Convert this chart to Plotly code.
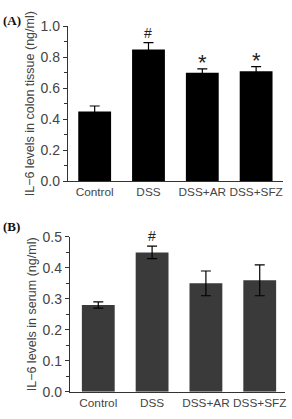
import plotly.graph_objects as go

categories = ["Control", "DSS", "DSS+AR", "DSS+SFZ"]
colon_values = [0.45, 0.85, 0.70, 0.71]
colon_errors = [0.035, 0.045, 0.025, 0.03]
colon_marks = ["", "#", "*", "*"]
serum_values = [0.28, 0.45, 0.35, 0.36]
serum_errors = [0.01, 0.02, 0.04, 0.05]
serum_marks = ["", "#", "", ""]

W, H = 292, 419
FONT = "Liberation Sans, Arial, sans-serif"
AX = "#333333"

fig = go.Figure()
fig.add_trace(go.Bar(x=categories, y=colon_values, width=0.61,
                     marker=dict(color="#000000", line=dict(width=0)),
                     error_y=dict(type="data", array=colon_errors, visible=True,
                                  color="#000000", thickness=1.2, width=5),
                     xaxis="x", yaxis="y", showlegend=False))
fig.add_trace(go.Bar(x=categories, y=serum_values, width=0.61,
                     marker=dict(color="#3a3a3a", line=dict(width=0)),
                     error_y=dict(type="data", array=serum_errors, visible=True,
                                  color="#000000", thickness=1.2, width=5),
                     xaxis="x2", yaxis="y2", showlegend=False))

def px_x(p):
    return p / W

def px_y(p):
    return 1 - p / H

common_y = dict(showline=True, linecolor=AX, linewidth=1, ticks="outside", ticklen=4,
                tickcolor=AX, showgrid=False, zeroline=False,
                tickfont=dict(family=FONT, size=14, color="#444444"),
                title_font=dict(family=FONT, size=12.5, color="#444444"),
                title_standoff=3)
common_x = dict(showline=True, linecolor=AX, linewidth=1, ticks="", showgrid=False,
                zeroline=False, tickangle=0,
                tickfont=dict(family=FONT, size=11.8, color="#444444"))

fig.update_layout(
    width=W, height=H, margin=dict(l=0, r=0, t=0, b=0),
    paper_bgcolor="white", plot_bgcolor="white",
    xaxis=dict(domain=[px_x(68), px_x(284)], range=[-0.5, 3.5], anchor="y", **common_x),
    yaxis=dict(domain=[px_y(180), px_y(19)], range=[0, 1.0], dtick=0.2, tickformat=".1f",
               anchor="x", title_text="IL\u22126 levels in colon tissue (ng/ml)",
               minor=dict(ticks="outside", ticklen=2.5, dtick=0.1, tickcolor=AX),
               **common_y),
    xaxis2=dict(domain=[px_x(70), px_x(286)], range=[-0.53, 3.47], anchor="y2", **common_x),
    yaxis2=dict(domain=[px_y(399), px_y(238)], range=[0, 0.5], dtick=0.1, tickformat=".1f",
                anchor="x2", title_text="IL\u22126 levels in serum (ng/ml)",
                minor=dict(ticks="outside", ticklen=2.5, dtick=0.05, tickcolor=AX),
                **common_y),
)

ann = []
for c, v, e, m in zip(categories, colon_values, colon_errors, colon_marks):
    if m:
        ann.append(dict(x=c, y=v + e, xref="x", yref="y", text=m, showarrow=False,
                        yanchor="bottom", yshift=0 if m == "#" else -8,
                        font=dict(family=FONT, size=22 if m == "*" else 14, color="#222222")))
for c, v, e, m in zip(categories, serum_values, serum_errors, serum_marks):
    if m:
        ann.append(dict(x=c, y=v + e, xref="x2", yref="y2", text=m, showarrow=False,
                        yanchor="bottom", yshift=0,
                        font=dict(family=FONT, size=14, color="#222222")))
ann.append(dict(x=px_x(1), y=px_y(3), xref="paper", yref="paper", text="<b>(A)</b>",
                showarrow=False, xanchor="left", yanchor="top",
                font=dict(family="Liberation Serif, Times New Roman, serif", size=13, color="#111111")))
ann.append(dict(x=px_x(1), y=px_y(217), xref="paper", yref="paper", text="<b>(B)</b>",
                showarrow=False, xanchor="left", yanchor="top",
                font=dict(family="Liberation Serif, Times New Roman, serif", size=13, color="#111111")))
fig.update_layout(annotations=ann)

fig.write_html("out.html")
